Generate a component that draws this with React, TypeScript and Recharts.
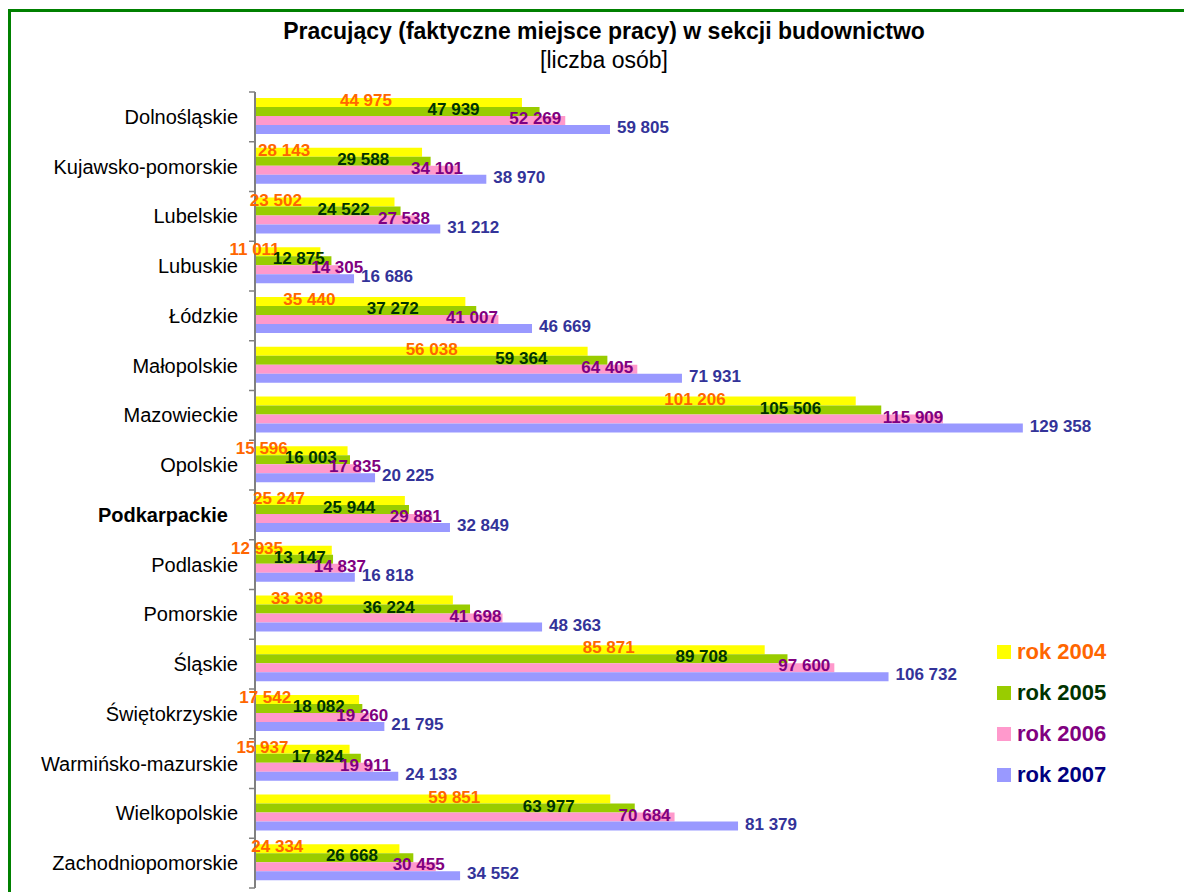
import { BarChart, Bar, XAxis, YAxis, Legend, LabelList } from 'recharts';

const regions = [
  'Dolnośląskie',
  'Kujawsko-pomorskie',
  'Lubelskie',
  'Lubuskie',
  'Łódzkie',
  'Małopolskie',
  'Mazowieckie',
  'Opolskie',
  'Podkarpackie',
  'Podlaskie',
  'Pomorskie',
  'Śląskie',
  'Świętokrzyskie',
  'Warmińsko-mazurskie',
  'Wielkopolskie',
  'Zachodniopomorskie',
];

const rok2004 = [44975, 28143, 23502, 11011, 35440, 56038, 101206, 15596, 25247, 12935, 33338, 85871, 17542, 15937, 59851, 24334];
const rok2005 = [47939, 29588, 24522, 12875, 37272, 59364, 105506, 16003, 25944, 13147, 36224, 89708, 18082, 17824, 63977, 26668];
const rok2006 = [52269, 34101, 27538, 14305, 41007, 64405, 115909, 17835, 29881, 14837, 41698, 97600, 19260, 19911, 70684, 30455];
const rok2007 = [59805, 38970, 31212, 16686, 46669, 71931, 129358, 20225, 32849, 16818, 48363, 106732, 21795, 24133, 81379, 34552];

const seriesNames = ['rok 2004', 'rok 2005', 'rok 2006', 'rok 2007'];

const data = regions.map((name, i) => ({
  name,
  y2004: rok2004[i],
  y2005: rok2005[i],
  y2006: rok2006[i],
  y2007: rok2007[i],
}));

const FONT = '"Liberation Sans", Arial, sans-serif';
const CHART_W = 1184;
const CHART_H = 884;
const MARGIN = { top: 84, right: 106, bottom: 4, left: 0 };
const BAND = (CHART_H - MARGIN.top - MARGIN.bottom) / regions.length;

const series = [
  { key: 'y2004', fill: '#FFFF00', text: '#FF6600', legend: '#FF6600' },
  { key: 'y2005', fill: '#99CC00', text: '#003300', legend: '#003300' },
  { key: 'y2006', fill: '#FF99CC', text: '#800080', legend: '#800080' },
  { key: 'y2007', fill: '#9999FF', text: '#333399', legend: '#000080' },
];

const fmt = (v: number) => String(v).replace(/\B(?=(\d{3})+(?!\d))/g, ' ');

// labels in the original sit at odd spots along each bar, roughly per series
const labelPos = (idx: number, x: number, w: number) => {
  const end = x + w;
  if (idx === 0) return { x: end - Math.min(0.7 * w - 5, 130), anchor: 'end' };
  if (idx === 1) return { x: end - Math.min(Math.max(0.35 * w - 20, 0), 60), anchor: 'end' };
  if (idx === 2) return { x: end - Math.min(0.15 * w, 40) + 10, anchor: 'middle' };
  return { x: end + 7, anchor: 'start' };
};

const makeLabel = (idx: number) => (props: any) => {
  const { x, y, width, height, value } = props;
  const p = labelPos(idx, Number(x), Number(width));
  return (
    <text
      x={p.x}
      y={Number(y) + Number(height) / 2 - 2}
      textAnchor={p.anchor as any}
      dominantBaseline="central"
      fill={series[idx].text}
      fontFamily={FONT}
      fontWeight="bold"
      fontSize={17}
    >
      {fmt(value)}
    </text>
  );
};

const RegionTick = (props: any) => {
  const { x, y, payload, index } = props;
  const axisX = x + 17;
  const bold = payload.value === 'Podkarpackie';
  return (
    <g>
      <line x1={axisX - 6} x2={axisX} y1={y - BAND / 2} y2={y - BAND / 2} stroke="#808080" strokeWidth={1.5} />
      {index === regions.length - 1 && (
        <line x1={axisX - 6} x2={axisX} y1={y + BAND / 2} y2={y + BAND / 2} stroke="#808080" strokeWidth={1.5} />
      )}
      <text
        x={bold ? x - 10 : x}
        y={y}
        textAnchor="end"
        dominantBaseline="central"
        fill="#000"
        fontFamily={FONT}
        fontSize={20}
        fontWeight={bold ? 'bold' : 'normal'}
      >
        {payload.value}
      </text>
    </g>
  );
};

const LegendBox = () => (
  <div style={{ fontFamily: FONT }}>
    {series.map((s, i) => (
      <div key={s.key} style={{ display: 'flex', alignItems: 'center', height: 41 }}>
        <span style={{ width: 14, height: 14, background: s.fill, marginRight: 6 }} />
        <span style={{ color: s.legend, fontWeight: 'bold', fontSize: 22 }}>{seriesNames[i]}</span>
      </div>
    ))}
  </div>
);

export default function App() {
  return (
    <div style={{ position: 'relative', width: CHART_W, height: CHART_H, overflow: 'hidden' }}>
      <div
        style={{
          position: 'absolute',
          left: 0,
          top: 1,
          width: 1300,
          height: 1000,
          border: '3px solid #008000',
          boxSizing: 'border-box',
        }}
      />
      <div
        style={{
          position: 'absolute',
          left: 0,
          width: 1192,
          top: 10,
          textAlign: 'center',
          fontFamily: FONT,
          fontWeight: 'bold',
          fontSize: 23,
          lineHeight: '26px',
        }}
      >
        Pracujący (faktyczne miejsce pracy) w sekcji budownictwo
      </div>
      <div
        style={{
          position: 'absolute',
          left: 0,
          width: 1192,
          top: 39,
          textAlign: 'center',
          fontFamily: FONT,
          fontSize: 23,
          lineHeight: '26px',
        }}
      >
        [liczba osób]
      </div>
      <BarChart
        width={CHART_W}
        height={CHART_H}
        data={data}
        layout="vertical"
        margin={MARGIN}
        barCategoryGap={6}
        barGap={0}
        style={{ position: 'absolute', left: 0, top: 0 }}
      >
        <XAxis type="number" domain={[0, 140000]} hide />
        <YAxis
          type="category"
          dataKey="name"
          width={247}
          interval={0}
          tickLine={false}
          tickSize={6}
          tickMargin={11}
          axisLine={{ stroke: '#808080', strokeWidth: 2 }}
          tick={<RegionTick />}
        />
        <Legend
          layout="vertical"
          align="center"
          verticalAlign="middle"
          content={<LegendBox />}
          wrapperStyle={{ left: 989, top: 623, width: 160 }}
        />
        {series.map((s, i) => (
          <Bar key={s.key} dataKey={s.key} name={seriesNames[i]} fill={s.fill} isAnimationActive={false}>
            <LabelList dataKey={s.key} content={makeLabel(i)} />
          </Bar>
        ))}
      </BarChart>
    </div>
  );
}
